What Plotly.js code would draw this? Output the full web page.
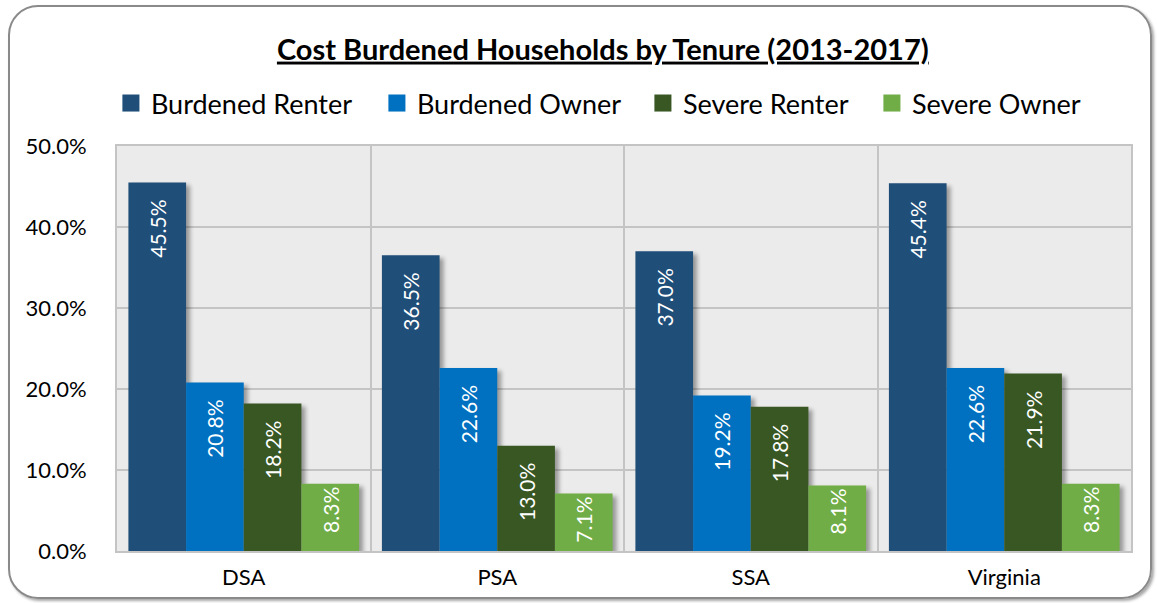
<!DOCTYPE html>
<html>
<head>
<meta charset="utf-8">
<script src="https://cdn.plot.ly/plotly-3.0.1.min.js"></script>
<style>
  html, body { margin: 0; padding: 0; background: #ffffff; }
  #wrap { position: relative; width: 1157px; height: 603px; overflow: hidden; }
  #chart { position: absolute; left: 0; top: 0; width: 1157px; height: 603px; }
  #frame {
    position: absolute; left: 8px; top: 5px; width: 1140px; height: 590px;
    border: 2px solid #8a8a8a; border-radius: 30px; pointer-events: none;
    box-shadow: 2px 2px 3px rgba(0,0,0,0.35);
  }
  .barlayer .point path { filter: drop-shadow(4px 3px 2px rgba(0,0,0,0.35)); }
  .legend .legendpoints { transform-box: fill-box; transform-origin: center; transform: scale(1.42); }
</style>
</head>
<body>
<div id="wrap">
  <div id="chart"></div>
  <div id="frame"></div>
</div>
<script>
const categories = ["DSA", "PSA", "SSA", "Virginia"];
const seriesNames = ["Burdened Renter", "Burdened Owner", "Severe Renter", "Severe Owner"];
const burdenedRenter = [45.5, 36.5, 37.0, 45.4];
const burdenedOwner = [20.8, 22.6, 19.2, 22.6];
const severeRenter = [18.2, 13.0, 17.8, 21.9];
const severeOwner = [8.3, 7.1, 8.1, 8.3];
const yTicks = [0, 10, 20, 30, 40, 50];
const yTickText = yTicks.map(v => v.toFixed(1) + "%");

const colors = ["#1f4e79", "#0070c0", "#385723", "#70ad47"];
const legendWidths = [221, 221, 184, null];
const seriesValues = [burdenedRenter, burdenedOwner, severeRenter, severeOwner];

const FONT = "Lato, 'Open Sans', sans-serif";

const traces = seriesValues.map((vals, i) => {
  const t = {
    type: "bar",
    name: seriesNames[i],
    x: categories,
    y: vals,
    marker: { color: colors[i], line: { width: 0 } },
    texttemplate: "%{y:.1f}%",
    textposition: "inside",
    insidetextanchor: "end",
    textangle: -90,
    insidetextfont: { family: FONT, size: 21, color: "#ffffff" },
    hoverinfo: "x+y+name"
  };
  if (legendWidths[i]) t.legendwidth = legendWidths[i];
  return t;
});

const layout = {
  width: 1157,
  height: 603,
  paper_bgcolor: "rgba(0,0,0,0)",
  plot_bgcolor: "#ebebeb",
  margin: { l: 117, r: 26, t: 146, b: 52 },
  barmode: "group",
  bargap: 0.09,
  bargroupgap: 0,
  font: { family: FONT, color: "#000000" },
  title: {
    text: "<b><span style='text-decoration:underline'>Cost Burdened Households by Tenure (2013-2017)</span></b>",
    font: { family: FONT, size: 29, color: "#000000" },
    x: 0.521, xref: "container", xanchor: "center",
    y: 0.918, yref: "container", yanchor: "middle"
  },
  showlegend: true,
  legend: {
    orientation: "h",
    x: -0.006, xanchor: "left", xref: "paper",
    y: 1.105, yanchor: "middle",
    font: { family: FONT, size: 27, color: "#000000" },
    traceorder: "normal",
    bgcolor: "rgba(0,0,0,0)"
  },
  xaxis: {
    type: "category",
    tickson: "boundaries",
    ticks: "",
    showgrid: true,
    gridcolor: "#c4c4c4",
    gridwidth: 2,
    showline: true,
    linecolor: "#c4c4c4",
    linewidth: 2,
    mirror: true,
    ticklabelstandoff: 6,
    tickfont: { family: FONT, size: 22, color: "#000000" },
    zeroline: false
  },
  yaxis: {
    range: [0, 50],
    tickmode: "array",
    tickvals: yTicks,
    ticktext: yTickText,
    showgrid: true,
    gridcolor: "#c4c4c4",
    gridwidth: 2,
    showline: true,
    linecolor: "#c4c4c4",
    linewidth: 2,
    mirror: true,
    zeroline: false,
    ticks: "",
    ticklabelstandoff: 24,
    tickfont: { family: FONT, size: 22, color: "#000000" }
  }
};

Plotly.newPlot("chart", traces, layout, { displayModeBar: false, staticPlot: true }).then(gd => {
  // push value labels down a little from the bar top, as in the original (only where room allows)
  gd.querySelectorAll(".barlayer .point").forEach(pt => {
    const path = pt.querySelector("path");
    const txt = pt.querySelector("text");
    if (!path || !txt) return;
    const pb = path.getBoundingClientRect();
    const tb = txt.getBoundingClientRect();
    if (pb.height > 90) {
      const shift = 17 - (tb.top - pb.top);
      txt.setAttribute("transform", "translate(0," + shift + ") " + (txt.getAttribute("transform") || ""));
    }
  });
});
</script>
</body>
</html>
